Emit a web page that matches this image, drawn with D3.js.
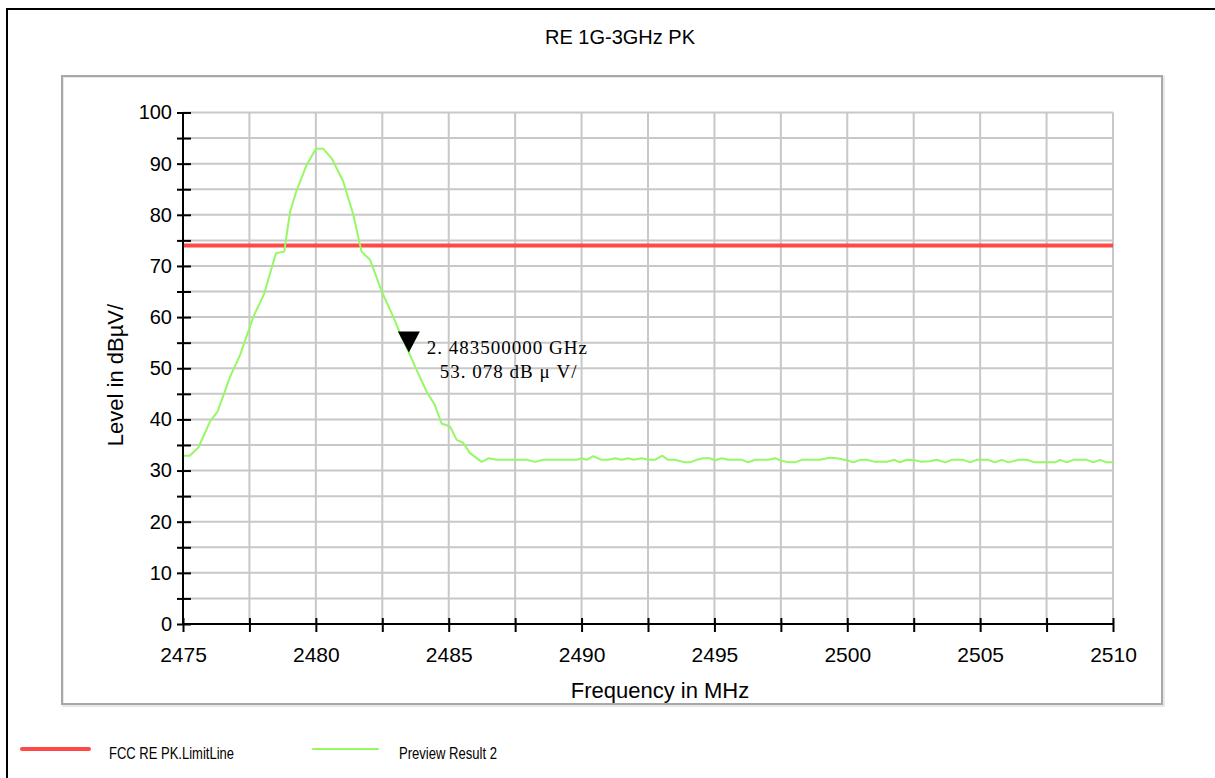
<!DOCTYPE html>
<html>
<head>
<meta charset="utf-8">
<script src="https://cdn.jsdelivr.net/npm/d3@7"></script>
<style>
  body { margin: 0; background: #fff; }
  svg { display: block; font-family: "Liberation Sans", Arial, sans-serif; }
</style>
</head>
<body>
<div id="chart"></div>
<script>
// Preview Result 2 trace (MHz, dBµV)
const freqs = [
  2475.00, 2475.25, 2475.58, 2476.02, 2476.30, 2476.77, 2477.15, 2477.65, 2478.05, 2478.50,
  2478.81, 2479.03, 2479.28, 2479.65, 2480.00, 2480.28, 2480.60, 2481.03, 2481.41, 2481.72,
  2482.04, 2482.48, 2482.91, 2483.17, 2483.50, 2483.79, 2484.17, 2484.48, 2484.73, 2485.05,
  2485.30, 2485.55, 2485.80, 2486.24, 2486.49, 2486.80, 2487.94, 2488.25, 2488.56, 2489.82,
  2490.01, 2490.19, 2490.44, 2490.76, 2491.01, 2491.26, 2491.51, 2491.76, 2491.95, 2492.26,
  2492.51, 2492.76, 2493.04, 2493.26, 2493.52, 2493.89, 2494.08, 2494.33, 2494.58, 2494.83,
  2495.02, 2495.27, 2495.52, 2496.03, 2496.27, 2496.53, 2497.03, 2497.28, 2497.59, 2497.84,
  2498.03, 2498.28, 2498.97, 2499.35, 2499.60, 2499.98, 2500.23, 2500.48, 2500.73, 2501.04,
  2501.48, 2501.77, 2501.98, 2502.24, 2502.55, 2502.80, 2503.11, 2503.37, 2503.68, 2503.93,
  2504.37, 2504.62, 2504.87, 2505.31, 2505.56, 2505.81, 2506.06, 2506.44, 2506.75, 2507.06,
  2507.82, 2508.01, 2508.26, 2508.51, 2509.01, 2509.26, 2509.51, 2509.76, 2510.00
];
const levels = [
  32.9, 32.9, 34.5, 39.6, 41.5, 48.3, 52.6, 60.1, 64.5, 72.5,
  72.8, 80.6, 84.8, 89.7, 92.9, 92.9, 91.0, 86.5, 80.0, 72.8,
  71.2, 65.0, 60.1, 56.8, 53.078, 49.7, 45.4, 42.8, 39.2, 38.6,
  36.0, 35.4, 33.4, 31.7, 32.4, 32.1, 32.1, 31.7, 32.1, 32.1,
  32.4, 32.1, 32.8, 32.1, 32.1, 32.4, 32.1, 32.4, 32.1, 32.4,
  32.1, 32.1, 32.9, 32.1, 32.1, 31.6, 31.6, 32.1, 32.4, 32.4,
  32.0, 32.4, 32.1, 32.1, 31.6, 32.1, 32.1, 32.4, 31.8, 31.6,
  31.6, 32.1, 32.1, 32.5, 32.4, 32.0, 31.6, 32.1, 32.1, 31.7,
  31.7, 32.1, 31.6, 32.1, 32.0, 31.7, 31.8, 32.1, 31.6, 32.1,
  32.1, 31.6, 32.1, 32.1, 31.6, 32.1, 31.6, 32.1, 32.1, 31.6,
  31.6, 32.1, 31.6, 32.1, 32.1, 31.6, 32.1, 31.6, 31.6
];

const limitLevel = 74;               // FCC RE PK.LimitLine
const markerFreq = 2483.5, markerLevel = 53.078;
const markerLines = ["2. 483500000 GHz", "53. 078 dB μ V/"];

const xLabelTicks = [2475, 2480, 2485, 2490, 2495, 2500, 2505, 2510];
const xMinorTicks = [2475, 2477.5, 2480, 2482.5, 2485, 2487.5, 2490, 2492.5, 2495, 2497.5, 2500, 2502.5, 2505, 2507.5, 2510];
const yLabelTicks = [0, 10, 20, 30, 40, 50, 60, 70, 80, 90, 100];
const yMinorTicks = [0, 5, 10, 15, 20, 25, 30, 35, 40, 45, 50, 55, 60, 65, 70, 75, 80, 85, 90, 95, 100];

const legendItems = [
  { label: "FCC RE PK.LimitLine", color: "#ff4848", width: 4 },
  { label: "Preview Result 2", color: "#96f864", width: 2 }
];

const W = 1215, H = 778;
const plot = { left: 183, right: 1113, top: 112.5, bottom: 624 };

const svg = d3.select("#chart").append("svg")
  .attr("width", W).attr("height", H);

// outer frame and inner panel
svg.append("rect").attr("x", 7).attr("y", 9).attr("width", W + 20).attr("height", H + 20)
  .attr("fill", "none").attr("stroke", "#000").attr("stroke-width", 2);
svg.append("rect").attr("x", 63).attr("y", 77).attr("width", 1101).attr("height", 629)
  .attr("fill", "none").attr("stroke", "#e8e8e8").attr("stroke-width", 2);
svg.append("rect").attr("x", 62).attr("y", 76).attr("width", 1100).attr("height", 628)
  .attr("fill", "none").attr("stroke", "#a8a8a8").attr("stroke-width", 2);

svg.append("text").attr("x", 620).attr("y", 44).attr("text-anchor", "middle")
  .attr("font-size", 20).text("RE 1G-3GHz PK");

const x = d3.scaleLinear().domain([2475, 2510]).range([plot.left, plot.right]);
const y = d3.scaleLinear().domain([0, 100]).range([plot.bottom, plot.top]);

// grid
const grid = svg.append("g").attr("stroke", "#c8c8c8").attr("stroke-width", 2);
grid.selectAll(".gx").data(xMinorTicks).enter().append("line")
  .attr("x1", d => x(d)).attr("x2", d => x(d)).attr("y1", plot.top).attr("y2", plot.bottom);
grid.selectAll(".gy").data(yMinorTicks).enter().append("line")
  .attr("x1", plot.left).attr("x2", plot.right).attr("y1", d => y(d)).attr("y2", d => y(d));

// limit line
svg.append("line")
  .attr("x1", x(2475)).attr("x2", x(2510)).attr("y1", y(limitLevel)).attr("y2", y(limitLevel))
  .attr("stroke", legendItems[0].color).attr("stroke-width", 4);

// trace
const pts = freqs.map((f, i) => [f, levels[i]]);
svg.append("path").datum(pts)
  .attr("fill", "none").attr("stroke", legendItems[1].color).attr("stroke-width", 2)
  .attr("stroke-linejoin", "round")
  .attr("d", d3.line().x(d => x(d[0])).y(d => y(d[1])));

// axes: crossing ticks drawn with a shifted axis, labels with a zero-size one
const yTickG = svg.append("g").attr("transform", `translate(${plot.left + 8},0)`)
  .call(d3.axisLeft(y).tickValues(yMinorTicks).tickSize(14).tickFormat(""));
yTickG.select(".domain").remove();
yTickG.selectAll("line").attr("stroke", "#000").attr("stroke-width", 2);

const yLab = svg.append("g").attr("transform", `translate(${plot.left},0)`)
  .call(d3.axisLeft(y).tickValues(yLabelTicks).tickSize(0).tickPadding(11));
yLab.select(".domain").remove();
yLab.selectAll("text").attr("font-size", 20).attr("fill", "#000")
  .attr("font-family", "Liberation Sans, Arial, sans-serif");

const xTickG = svg.append("g").attr("transform", `translate(0,${plot.bottom - 6})`)
  .call(d3.axisBottom(x).tickValues(xMinorTicks).tickSize(14).tickFormat(""));
xTickG.select(".domain").remove();
xTickG.selectAll("line").attr("stroke", "#000").attr("stroke-width", 2);

const xLab = svg.append("g").attr("transform", `translate(0,${plot.bottom})`)
  .call(d3.axisBottom(x).tickValues(xLabelTicks).tickSize(0).tickPadding(23).tickFormat(d3.format("d")));
xLab.select(".domain").remove();
xLab.selectAll("text").attr("font-size", 21).attr("fill", "#000")
  .attr("font-family", "Liberation Sans, Arial, sans-serif");

svg.append("line").attr("x1", plot.left).attr("x2", plot.left)
  .attr("y1", plot.top).attr("y2", plot.bottom).attr("stroke", "#000").attr("stroke-width", 2);
svg.append("line").attr("x1", plot.left).attr("x2", plot.right)
  .attr("y1", plot.bottom).attr("y2", plot.bottom).attr("stroke", "#000").attr("stroke-width", 2);

// axis titles
svg.append("text").attr("x", 660).attr("y", 698).attr("text-anchor", "middle")
  .attr("font-size", 22).text("Frequency in MHz");
svg.append("text").attr("transform", "translate(123,375) rotate(-90)").attr("text-anchor", "middle")
  .attr("font-size", 22).text("Level in dBµV/");

// marker
const mx = x(markerFreq), my = y(markerLevel);
svg.append("path")
  .attr("d", `M${mx},${my} L${mx - 11},${my - 21} L${mx + 11},${my - 21} Z`)
  .attr("fill", "#000");
svg.append("text").attr("x", mx + 18).attr("y", my + 1)
  .attr("font-family", "Liberation Serif, serif").attr("font-size", 19).attr("letter-spacing", 1)
  .text(markerLines[0]);
svg.append("text").attr("x", mx + 31).attr("y", my + 25)
  .attr("font-family", "Liberation Serif, serif").attr("font-size", 19).attr("letter-spacing", 1)
  .text(markerLines[1]);

// legend
const leg = svg.selectAll(".leg").data(legendItems).enter().append("g")
  .attr("transform", (d, i) => `translate(${[22, 313][i]},749)`);
leg.append("line").attr("x1", 0).attr("x2", d => d.width > 2 ? 67 : 65).attr("y1", 0).attr("y2", 0)
  .attr("stroke", d => d.color).attr("stroke-width", d => d.width).attr("stroke-linecap", "round");
leg.append("text").attr("x", (d, i) => [87, 86][i]).attr("y", 10)
  .attr("font-size", 16)
  .attr("textLength", (d, i) => [125, 98][i]).attr("lengthAdjust", "spacingAndGlyphs")
  .text(d => d.label);
</script>
</body>
</html>
